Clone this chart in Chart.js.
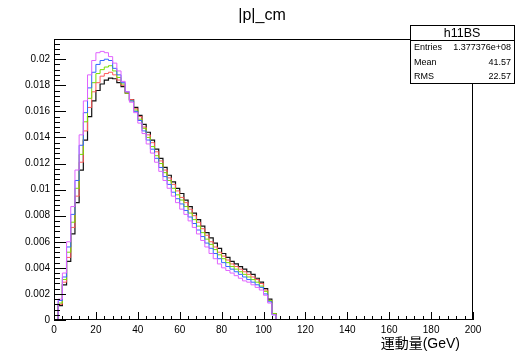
<!DOCTYPE html>
<html lang="ja">
<head>
<meta charset="UTF-8">
<title>|p|_cm</title>
<script src="https://cdn.jsdelivr.net/npm/chart.js"></script>
<style>
  body { margin: 0; background: #fff; }
  canvas { display: block; }
</style>
</head>
<body>
<canvas id="pcm" width="522" height="359"></canvas>
<script>
// histogram: 100 bins of 2 GeV from 0 to 200, non-empty bins start at 4 GeV
const binWidth = 2;
const nBins = 100;
const firstFilledBin = 2;

const blackVals = [0.0011,0.0027,0.0045,0.0066,0.0090,0.0115,0.0138,0.0156,0.0168,0.0176,
  0.0181,0.0184,0.01855,0.0185,0.0182,0.0179,0.0174,0.0169,0.0163,0.0157,
  0.0150,0.0144,0.0138,0.0131,0.0124,0.0117,0.0111,0.0106,0.0101,0.0097,
  0.0092,0.0087,0.0082,0.0077,0.0072,0.0067,0.0063,0.0059,0.0055,0.0051,
  0.0048,0.0045,0.0043,0.0041,0.0039,0.0037,0.0035,0.0032,0.0029,0.0024,
  0.0016,0.0005];
const redVals = [0.0012,0.0029,0.0048,0.0071,0.0095,0.0121,0.0145,0.0163,0.0175,0.0182,
  0.0187,0.0189,0.0190,0.0188,0.0184,0.0180,0.0174,0.0169,0.0162,0.0156,
  0.0148,0.0142,0.0136,0.0129,0.0122,0.0115,0.0109,0.0104,0.0099,0.0094,
  0.0090,0.0085,0.0080,0.0075,0.0070,0.0065,0.0060,0.0056,0.0052,0.0049,
  0.0046,0.0043,0.0041,0.0039,0.0037,0.0035,0.0033,0.0031,0.0028,0.0023,
  0.0015,0.0005];
const greenVals = [0.0013,0.0031,0.0052,0.0075,0.0101,0.0127,0.0152,0.0170,0.0182,0.0189,
  0.0192,0.0194,0.0195,0.0191,0.0186,0.0181,0.0174,0.0168,0.0161,0.0154,
  0.0147,0.0140,0.0133,0.0126,0.0120,0.0113,0.0107,0.0101,0.0096,0.0092,
  0.0087,0.0082,0.0077,0.0072,0.0067,0.0062,0.0058,0.0054,0.0050,0.0047,
  0.0044,0.0041,0.0039,0.0037,0.0035,0.0033,0.0031,0.0029,0.0026,0.0022,
  0.0015,0.0005];
const blueVals = [0.0015,0.0033,0.0056,0.0081,0.0107,0.0134,0.0159,0.0178,0.0190,0.0196,
  0.0199,0.0200,0.0199,0.0193,0.0188,0.0182,0.0175,0.0168,0.0160,0.0153,
  0.0145,0.0138,0.0131,0.0124,0.0117,0.0110,0.0104,0.0098,0.0093,0.0089,
  0.0084,0.0079,0.0074,0.0069,0.0064,0.0059,0.0055,0.0051,0.0047,0.0044,
  0.0041,0.0039,0.0037,0.0035,0.0033,0.0031,0.0029,0.0027,0.0025,0.0020,
  0.0014,0.0004];
const magentaVals = [0.0016,0.0036,0.0060,0.0087,0.0115,0.0142,0.0168,0.0188,0.0199,0.0205,
  0.0206,0.0205,0.0202,0.0197,0.0191,0.0183,0.0175,0.0167,0.0159,0.0151,
  0.0143,0.0135,0.0128,0.0121,0.0114,0.0107,0.0101,0.0095,0.0090,0.0085,
  0.0081,0.0076,0.0071,0.0066,0.0061,0.0056,0.0051,0.0047,0.0043,0.0040,
  0.0038,0.0036,0.0034,0.0032,0.0030,0.0029,0.0027,0.0025,0.0023,0.0019,
  0.0013,0.0004];

const xTicks = [0, 20, 40, 60, 80, 100, 120, 140, 160, 180, 200];
const yTicks = [0, 0.002, 0.004, 0.006, 0.008, 0.01, 0.012, 0.014, 0.016, 0.018, 0.02];

const statsName = 'h11BS';
const statsRows = [['Entries', '1.377376e+08'], ['Mean', '41.57'], ['RMS', '22.57']];

// step points at bin low edges, plus the upper edge of the last bin
function toSteps(vals) {
  const pts = [];
  for (let i = 0; i < nBins; i++) {
    const k = i - firstFilledBin;
    pts.push({ x: i * binWidth, y: (k >= 0 && k < vals.length) ? vals[k] : 0 });
  }
  pts.push({ x: nBins * binWidth, y: pts[pts.length - 1].y });
  return pts;
}

function hist(vals, color, width) {
  return {
    data: toSteps(vals),
    borderColor: color,
    borderWidth: width || 1,
    stepped: 'after',
    pointRadius: 0,
    fill: false
  };
}

const font = '"Liberation Sans", Arial, sans-serif';

// ROOT-like frame, inward ticks, title, axis title and stats box
const rootStyle = {
  id: 'rootStyle',
  afterDatasetsDraw(chart) {
    const { ctx, chartArea: a, scales: { x, y } } = chart;
    ctx.save();
    ctx.strokeStyle = '#000';
    ctx.lineWidth = 1;
    ctx.strokeRect(a.left + 0.5, a.top + 0.5, a.right - a.left - 1, a.bottom - a.top - 1);

    ctx.beginPath();
    for (let v = 0; v <= 200; v += 4) {
      const px = Math.round(x.getPixelForValue(v)) + 0.5;
      const len = v % 20 === 0 ? 8 : 4;
      ctx.moveTo(px, a.bottom);
      ctx.lineTo(px, a.bottom - len);
    }
    for (let i = 0; i <= 53; i++) {
      const v = i * 0.0004;
      const py = Math.round(y.getPixelForValue(v)) + 0.5;
      if (py < a.top) break;
      const len = i % 5 === 0 ? 12 : 6;
      ctx.moveTo(a.left, py);
      ctx.lineTo(a.left + len, py);
    }
    ctx.stroke();

    ctx.fillStyle = '#000';
    ctx.font = '16px ' + font;
    ctx.textAlign = 'center';
    ctx.textBaseline = 'alphabetic';
    ctx.fillText('|p|_cm', 262, 20);

    ctx.font = '14px "Liberation Sans", "Noto Sans CJK JP", sans-serif';
    ctx.textAlign = 'right';
    ctx.textBaseline = 'middle';
    ctx.fillText('運動量(GeV)', 460, 344);

    // stats box
    const bx = 410, by = 25, bw = 104, bh = 58, rowH = bh / 4;
    ctx.fillStyle = '#fff';
    ctx.fillRect(bx, by, bw, bh);
    ctx.strokeRect(bx + 0.5, by + 0.5, bw, bh);
    ctx.beginPath();
    ctx.moveTo(bx, Math.round(by + rowH) + 0.5);
    ctx.lineTo(bx + bw, Math.round(by + rowH) + 0.5);
    ctx.stroke();
    ctx.fillStyle = '#000';
    ctx.font = '12.5px ' + font;
    ctx.textAlign = 'center';
    ctx.fillText(statsName, bx + bw / 2, by + rowH / 2 + 1);
    ctx.font = '9px ' + font;
    statsRows.forEach((r, i) => {
      const ty = by + rowH * (i + 1.5) + 1;
      ctx.textAlign = 'left';
      ctx.fillText(r[0], bx + 4, ty);
      ctx.textAlign = 'right';
      ctx.fillText(r[1], bx + bw - 3, ty);
    });
    ctx.restore();
  }
};

new Chart(document.getElementById('pcm'), {
  type: 'line',
  data: {
    datasets: [
      hist(magentaVals, '#e062ff'),
      hist(blueVals, '#3366ff'),
      hist(greenVals, '#77e000'),
      hist(redVals, '#ff5a5a'),
      hist(blackVals, '#111111', 1.2)
    ]
  },
  options: {
    responsive: false,
    animation: false,
    layout: { padding: { top: 39, right: 49, left: 0, bottom: 0 } },
    plugins: { legend: { display: false }, tooltip: { enabled: false } },
    scales: {
      x: {
        type: 'linear',
        min: 0,
        max: 200,
        grid: { display: false, drawTicks: false },
        border: { display: false },
        afterBuildTicks: s => { s.ticks = xTicks.map(v => ({ value: v })); },
        afterFit: s => { s.height = 39; },
        ticks: { color: '#000', font: { family: font, size: 10 }, padding: 4, maxRotation: 0, autoSkip: false }
      },
      y: {
        min: 0,
        max: 0.02155,
        grid: { display: false, drawTicks: false },
        border: { display: false },
        afterBuildTicks: s => { s.ticks = yTicks.map(v => ({ value: v })); },
        afterFit: s => { s.width = 54; },
        ticks: {
          color: '#000',
          font: { family: font, size: 10 },
          padding: 4,
          callback: v => String(Number(v.toFixed(3)))
        }
      }
    }
  },
  plugins: [rootStyle]
});
</script>
</body>
</html>
